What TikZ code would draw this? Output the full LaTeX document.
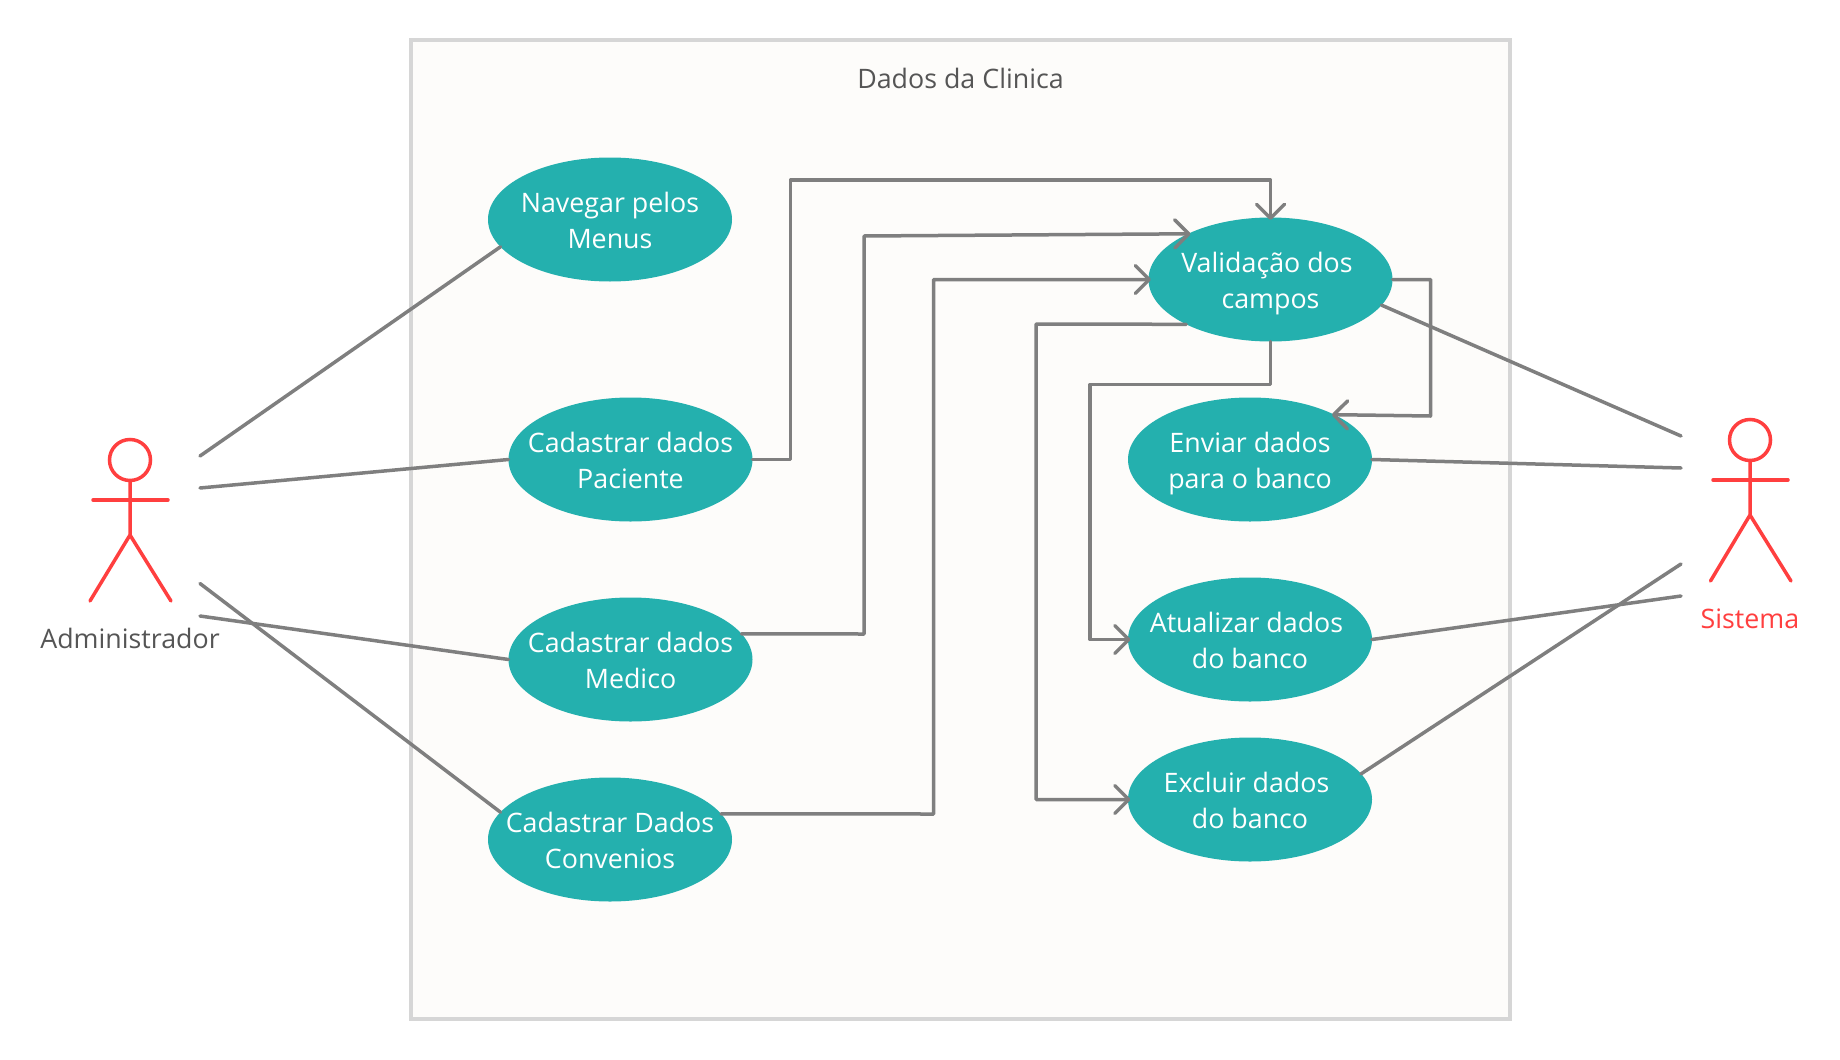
\documentclass[tikz,border=0pt]{standalone}
\usepackage{fontspec}
\setmainfont{Open Sans}
\usetikzlibrary{shapes.geometric,arrows.meta}
\definecolor{teal1}{HTML}{24B0AE}
\definecolor{wire}{HTML}{7F7F7F}
\definecolor{actorred}{HTML}{FF3F3F}
\definecolor{boxline}{HTML}{D6D6D6}
\definecolor{boxfill}{HTML}{FDFCFA}
\definecolor{txtgray}{HTML}{555555}
\newcommand{\lpa}{\rule[-6pt]{0pt}{34.3pt}}
\newcommand{\lpb}{\rule[-6pt]{0pt}{32pt}}
\tikzset{
  usecase/.style={ellipse,fill=teal1,text=white,align=center,minimum width=244pt,minimum height=124pt,
    inner xsep=-25pt,inner ysep=0pt,outer sep=0pt,font=\fontsize{26.8}{36}\selectfont},
  wireline/.style={draw=wire,line width=3.5pt,line cap=round,line join=round},
  flow/.style={wireline,shorten >=-2.5pt,-{Straight Barb[length=14pt,width=28pt,line width=3.5pt,round]}},
  limb/.style={draw=actorred,line width=3.5pt,line cap=round},
  heads/.style={circle,draw=actorred,line width=3.5pt,fill=white,minimum size=41pt,inner sep=0pt,outer sep=0pt},
  caption/.style={font=\fontsize{26.8}{36}\selectfont,inner sep=0pt}
}
\begin{document}
\begin{tikzpicture}[x=1pt,y=-1pt]
\useasboundingbox (0,0) rectangle (1840,1060);
% system boundary
\node[draw=boxline,fill=boxfill,line width=4pt,minimum width=1099pt,minimum height=979pt,inner sep=0pt,outer sep=0pt] (system) at (960.5,529.5) {};
\node[caption,text=txtgray] (title) at (960.5,78.5) {Dados da Clinica};
% use cases
\node[usecase] (nav) at (610,219.5) {\lpa Navegar pelos\\\lpb Menus};
\node[usecase] (pac) at (630.5,459.5) {\lpa Cadastrar dados\\\lpb Paciente};
\node[usecase] (med) at (630.5,659.5) {\lpa Cadastrar dados\\\lpb Medico};
\node[usecase] (con) at (610,839.5) {\lpa Cadastrar Dados\\\lpb Convenios};
\node[usecase] (val) at (1270.5,279.5) {\lpa Validação dos\hspace*{7pt}\\\lpb campos};
\node[usecase] (env) at (1250,459.5) {\lpa Enviar dados\\\lpb para o banco};
\node[usecase] (atu) at (1250,639.5) {\lpa Atualizar dados\hspace*{7pt}\\\lpb do banco};
\node[usecase] (exc) at (1250,799.5) {\lpa Excluir dados\hspace*{7pt}\\\lpb do banco};
% actor: Administrador
\node[heads] (admhead) at (130,460) {};
\coordinate (admhip) at (130,535);
\coordinate (admarmL) at (93,500);
\coordinate (admarmR) at (168,500);
\coordinate (admlegL) at (90,601);
\coordinate (admlegR) at (171,601);
\draw[limb] (admhead.south) -- (admhip) -- (admlegL);
\draw[limb] (admhip) -- (admlegR);
\draw[limb] (admarmL) -- (admarmR);
\node[caption,text=txtgray] (admlabel) at (130,638.5) {Administrador};
% actor: Sistema
\node[heads] (sishead) at (1750,440) {};
\coordinate (siship) at (1750,515);
\coordinate (sisarmL) at (1713,480);
\coordinate (sisarmR) at (1788,480);
\coordinate (sislegL) at (1710.5,581);
\coordinate (sislegR) at (1791,581);
\draw[limb] (sishead.south) -- (siship) -- (sislegL);
\draw[limb] (siship) -- (sislegR);
\draw[limb] (sisarmL) -- (sisarmR);
\node[caption,text=actorred] (sislabel) at (1750,618.5) {Sistema};
% free connector ends at the actors
\coordinate (a1) at (200,456);
\coordinate (a2) at (200,488);
\coordinate (a3) at (200,583.5);
\coordinate (a4) at (200,616);
\coordinate (s1) at (1681,436);
\coordinate (s2) at (1681,468);
\coordinate (s3) at (1681,564);
\coordinate (s4) at (1681,596);
% associations
\draw[wireline] (a1) -- (nav.194);
\draw[wireline] (a2) -- (pac.west);
\draw[wireline] (a3) -- (con.166);
\draw[wireline] (a4) -- (med.west);
\draw[wireline] (val.-13.6) -- (s1);
\draw[wireline] (env.east) -- (s2);
\draw[wireline] (atu.east) -- (s4);
\draw[wireline] (exc.13.6) -- (s3);
% flows into validation
\draw[flow] (pac.east) -- (790.5,459.5) -- (790.5,180) -- (1270.5,180) -- (val.north);
\draw[flow] (med.13.6) -- (864,634) -- (864,236) -- (val.151.6);
\draw[flow] (con.13.6) -- (933.5,814) -- (933.5,279.5) -- (val.west);
% flows out of validation
\draw[flow] (val.208.5) -- (1036,324) -- (1036,799.5) -- (exc.west);
\draw[flow] (val.south) -- (1270.5,384.5) -- (1090,384.5) -- (1090,639.5) -- (atu.west);
\draw[flow] (val.east) -- (1430.5,279.5) -- (1430.5,416) -- (env.28.5);
\end{tikzpicture}
\end{document}
